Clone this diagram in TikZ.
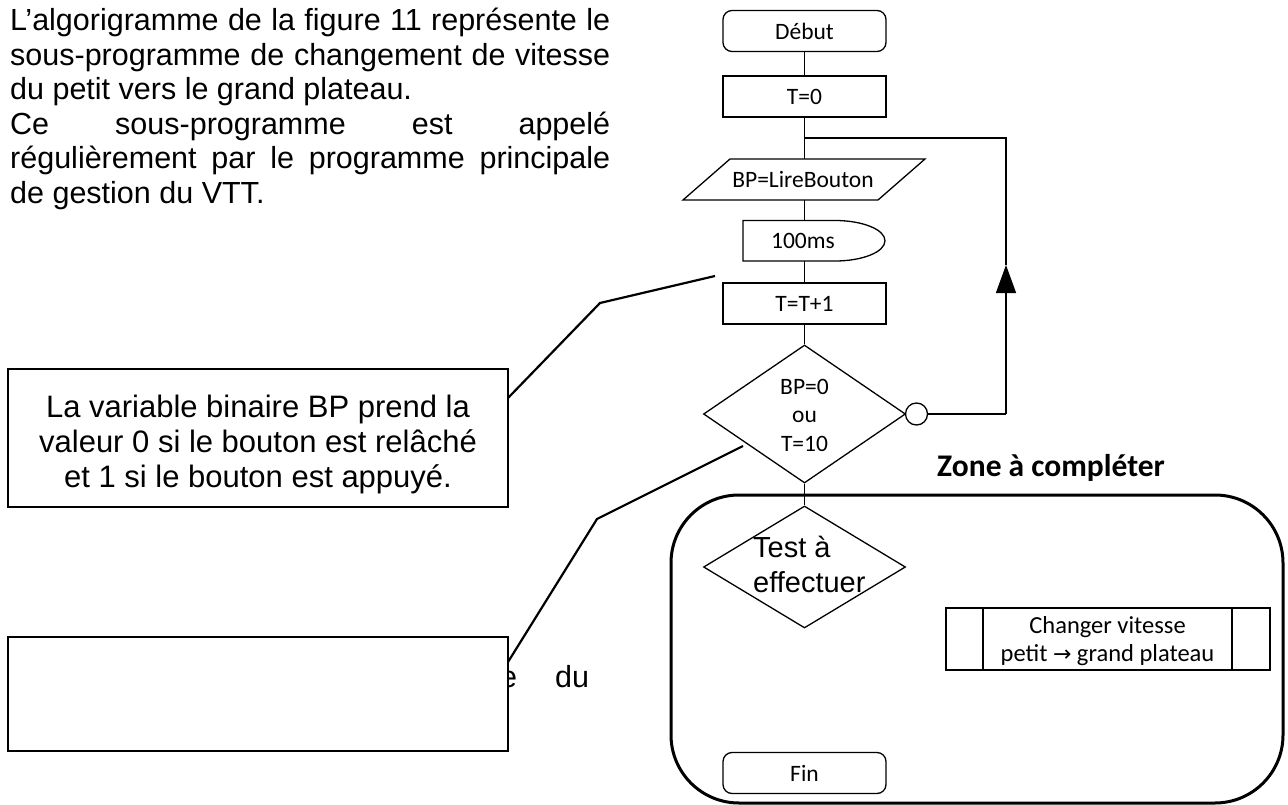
\documentclass[tikz,border=0pt]{standalone}
\usepackage{fontspec}
\setmainfont{Liberation Sans}
\newfontfamily\calfont{Carlito}
\newfontfamily\arrowfont{DejaVu Sans}
\usetikzlibrary{arrows.meta,shapes.geometric}
\newcommand\parafont{\fontsize{30.5}{34.5}\selectfont}
\newcommand\notefont{\fontsize{31}{35}\selectfont}
\newcommand\flowfont{\calfont\fontsize{23.5}{28}\selectfont}
\newcommand\subfont{\calfont\fontsize{24.5}{29}\selectfont}
\begin{document}
\begin{tikzpicture}[x=1pt,y=-1pt,
  txt/.style={anchor=base west, inner sep=0pt, font=\parafont},
  ctxt/.style={anchor=base, inner sep=0pt, font=\notefont},
  ftxt/.style={inner sep=0pt, font=\flowfont},
  fbtxt/.style={anchor=base, inner sep=0pt, font=\flowfont},
  fline/.style={line width=1.3pt},
  fbox/.style={draw, line width=1.3pt, minimum width=163pt, minimum height=41pt, inner sep=0pt, font=\flowfont},
  term/.style={fbox, rounded corners=9pt},
  dec/.style={draw, diamond, line width=1.3pt, minimum width=202pt, inner sep=0pt},
  note/.style={draw, line width=2pt, minimum width=500pt, inner sep=0pt},
  lead/.style={line width=2.2pt},
]
\fill[white] (0,0) rectangle (1288,805);
\useasboundingbox (0,0) rectangle (1288,805);

% paragraph
\node[txt] (p1) at (10,31) {\makebox[600pt][s]{L’algorigramme de la figure 11 représente le}};
\node[txt] (p2) at (10,65.5) {\makebox[600pt][s]{sous-programme de changement de vitesse}};
\node[txt] (p3) at (10,100) {du petit vers le grand plateau.};
\node[txt] (p4) at (10,134.5) {\makebox[600pt][s]{Ce sous-programme est appelé}};
\node[txt] (p5) at (10,169) {\makebox[600pt][s]{régulièrement par le programme principale}};
\node[txt] (p6) at (10,203.5) {de gestion du VTT.};

% flowchart
\node[term] (debut) at (804.5,31) {Début};
\node[fbox] (t0) at (804.5,96.5) {T=0};
\coordinate (j) at (804.5,138);
\coordinate (bpT) at (804.5,159);
\coordinate (bpB) at (804.5,200);
\draw[fline] (730,159) -- (925,159) -- (878,200) -- (683,200) -- cycle;
\node[ftxt] (bp) at (803,180) {BP=LireBouton};
\coordinate (dlT) at (804.5,220.5);
\coordinate (dlB) at (804.5,261);
\draw[fline] (743,220.5) -- (835,220.5) arc[start angle=-90,end angle=90,x radius=50,y radius=20.25] -- (743,261) -- cycle;
\node[ftxt] (delay) at (803,241) {100ms};
\node[fbox] (tt) at (804.5,303.5) {T=T+1};
\node[dec, minimum height=138pt] (d1) at (804.5,414) {};
\node[fbtxt] (d1a) at (804.5,394) {BP=0};
\node[fbtxt] (d1b) at (804.5,422.5) {ou};
\node[fbtxt] (d1c) at (804.5,451) {T=10};
\node[circle, draw, fline, minimum size=22pt, inner sep=0pt] (circ) at (916.5,414) {};
\coordinate (c1) at (1006,414);
\coordinate (c2) at (1006,265);
\coordinate (c3) at (1006,138);

\draw[fline] (debut) -- (t0);
\draw[fline] (t0) -- (j) -- (bpT);
\draw[fline] (bpB) -- (dlT);
\draw[fline] (dlB) -- (tt);
\draw[fline] (tt) -- (d1);
\draw[fline] (circ) -- (c1);
\draw[fline,-{Triangle[width=20pt,length=28pt]}] (c1) -- (c2);
\draw[fline] (c2) -- (c3) -- (j);

% zone
\draw[line width=3pt, rounded corners=68pt] (671,495) rectangle (1283,803);
\node[anchor=base west, inner sep=0pt, font=\calfont\bfseries\fontsize{31.5}{36}\selectfont] (zt) at (937,476) {Zone à compléter};
\node[dec, minimum height=122pt] (test) at (804.5,567) {};
\draw[fline] (d1) -- (test);
\node[txt, font=\fontsize{29}{35}\selectfont] (te1) at (753,557) {Test à};
\node[txt, font=\fontsize{29}{35}\selectfont] (te2) at (753,592) {effectuer};

\node[draw, fline, minimum width=324pt, minimum height=62pt, inner sep=0pt] (sub) at (1108,639) {};
\draw[fline] (983,608) -- (983,670);
\draw[fline] (1232,608) -- (1232,670);
\node[anchor=base, inner sep=0pt, font=\subfont] (s1) at (1107.5,633.5) {Changer vitesse};
\node[anchor=base, inner sep=0pt, font=\subfont] (s2) at (1107.5,661.5) {petit {\arrowfont\fontsize{22}{26}\selectfont →} grand plateau};

\node[term] (fin) at (804.5,773) {Fin};

% notes
\node[note, minimum height=138pt] (n1) at (258,438) {};
\node[ctxt] (n1a) at (258,417) {La variable binaire BP prend la};
\node[ctxt] (n1b) at (258,452) {valeur 0 si le bouton est relâché};
\node[ctxt] (n1c) at (258,487) {et 1 si le bouton est appuyé.};

\node[txt] (h1) at (500,687) {e};
\node[txt] (h2) at (555,687) {du};
\node[note, fill=white, minimum height=114pt] (n2) at (258,694) {};

\coordinate (a0) at (508,398);
\coordinate (a1) at (600,303);
\coordinate (a2) at (715,276);
\draw[lead] (a0) -- (a1) -- (a2);
\coordinate (b0) at (743,446);
\coordinate (b1) at (597,519);
\coordinate (b2) at (508,662);
\draw[lead] (b0) -- (b1) -- (b2);
\end{tikzpicture}
\end{document}
